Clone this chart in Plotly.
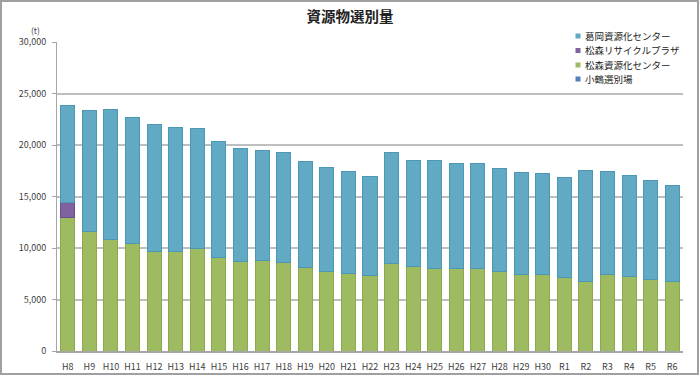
import plotly.graph_objects as go

categories = ["H8", "H9", "H10", "H11", "H12", "H13", "H14", "H15", "H16", "H17",
              "H18", "H19", "H20", "H21", "H22", "H23", "H24", "H25", "H26", "H27",
              "H28", "H29", "H30", "R1", "R2", "R3", "R4", "R5", "R6"]

kotsuru = [0] * 29  # 小鶴選別場
matsumori_shigen = [12970, 11590, 10810, 10390, 9670, 9640, 9970, 9100, 8710, 8740,
                    8610, 8120, 7740, 7550, 7360, 8520, 8230, 8030, 8000, 7970,
                    7710, 7450, 7420, 7160, 6770, 7390, 7220, 6960, 6770]
matsumori_recycle = [1450, 0, 0, 0, 0, 0, 0, 0, 0, 0,
                     0, 0, 0, 0, 0, 0, 0, 0, 0, 0,
                     0, 0, 0, 0, 0, 0, 0, 0, 0]
kuzuoka = [9380, 11730, 12640, 12250, 12330, 12030, 11610, 11220, 10970, 10750,
           10680, 10300, 10040, 9870, 9570, 10770, 10220, 10420, 10220, 10280,
           10030, 9900, 9770, 9710, 10770, 10060, 9810, 9620, 9300]

series = [
    ("小鶴選別場", kotsuru, "#4F81BD", "#3f6fa8"),
    ("松森資源化センター", matsumori_shigen, "#9FBB62", "#8aaa4c"),
    ("松森リサイクルプラザ", matsumori_recycle, "#7F62A0", "#6a4f8a"),
    ("葛岡資源化センター", kuzuoka, "#62A9C4", "#4b98b6"),
]

W, H = 700, 376
L, R, T, B = 57, 17, 42, 25
pw, ph = W - L - R, H - T - B


def px(xp):
    return (xp - L) / pw


def py(yp):
    return (H - B - yp) / ph


fig = go.Figure()
for name, vals, col, lc in series:
    fig.add_trace(go.Bar(x=categories, y=vals, name=name, showlegend=False,
                         hoverinfo="skip",
                         marker=dict(color=col, line=dict(color=lc, width=1))))

fig.update_layout(
    width=W, height=H,
    margin=dict(l=L, r=R, t=T, b=B, autoexpand=False),
    barmode="stack", bargap=0.35,
    paper_bgcolor="white", plot_bgcolor="white",
    font=dict(family="Noto Sans CJK JP, Noto Sans, sans-serif", color="#404040", size=9),
    title=dict(text="<b>資源物選別量</b>", x=0.5, xanchor="center", y=1 - 17 / H,
               yanchor="middle", font=dict(size=14.5, color="#222222")),
)
fig.update_xaxes(showline=True, linecolor="#a6a6a6", linewidth=1.5,
                 ticks="outside", ticklen=3, tickcolor="rgba(0,0,0,0)",
                 ticklabelstandoff=3, automargin=False,
                 tickfont=dict(size=9, color="#404040"))
fig.update_yaxes(range=[0, 30000], dtick=5000, tickformat=",d",
                 showgrid=True, gridcolor="#bfbfbf", gridwidth=1.5,
                 showline=True, linecolor="#a6a6a6", linewidth=1,
                 ticks="outside", ticklen=4, tickcolor="#a6a6a6",
                 ticklabelstandoff=4, automargin=False,
                 tickfont=dict(size=9, color="#404040"), zeroline=False)

# legend (reversed order: top item is the top of the stack)
leg_y = [36, 50.5, 65, 79]
for (name, vals, col, lc), yy in zip(reversed(series), leg_y):
    fig.add_shape(type="rect", xref="paper", yref="paper",
                  x0=px(575.5), x1=px(580.5), y0=py(yy + 2.5), y1=py(yy - 2.5),
                  fillcolor=col, line=dict(width=0))
    fig.add_annotation(text=name, xref="paper", yref="paper",
                       x=px(582.5), y=py(yy), xanchor="left", yanchor="middle",
                       showarrow=False, font=dict(size=9.5, color="#222222"))

fig.add_annotation(text="(t)", xref="paper", yref="paper",
                   x=px(35), y=py(30), xanchor="center", yanchor="middle",
                   showarrow=False, font=dict(size=8.5, color="#404040"))
fig.add_shape(type="rect", xref="paper", yref="paper",
              x0=px(1), x1=px(698), y0=py(374), y1=py(1),
              line=dict(color="#a0a0a0", width=2), fillcolor="rgba(0,0,0,0)")

fig.write_html("out.html", config={"displayModeBar": False},
               post_script="document.body.style.margin='0';document.body.style.overflow='hidden';")
